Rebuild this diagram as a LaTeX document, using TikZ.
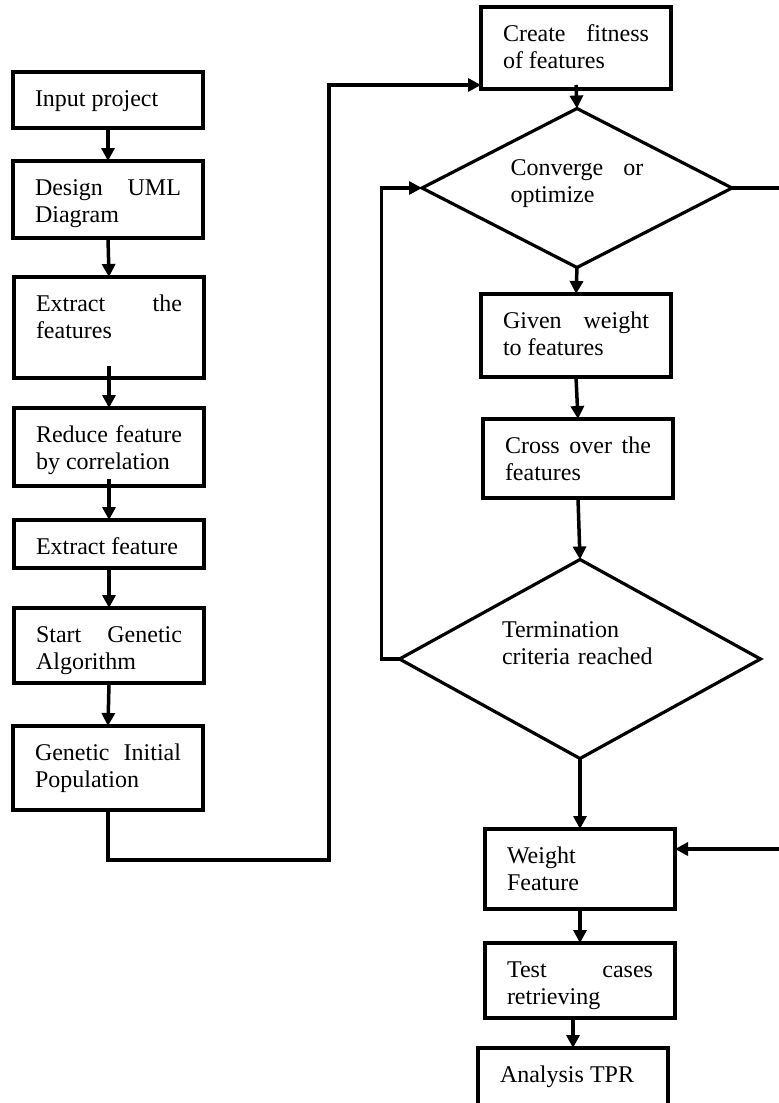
\documentclass[tikz,border=0pt]{standalone}
\usepackage{fontspec}
\setmainfont{Liberation Serif}
\usetikzlibrary{arrows.meta,shapes.geometric}
\begin{document}
\begin{tikzpicture}[x=0.5pt,y=-0.5pt,
  every node/.style={font={\fontsize{12pt}{13.75pt}\selectfont}},
  box/.style={draw, line width=1.75pt, inner xsep=11pt, inner ysep=0pt, outer sep=0pt,
    text width=73pt, align=justify, anchor=north west, text height=17pt},
  dia/.style={draw, diamond, line width=1.6pt, inner sep=0pt, outer sep=0pt,
    shape aspect=2, text height=8pt},
  arr/.style={line width=1.75pt, -{Triangle[length=6.5pt,width=6.5pt]}},
  ln/.style={line width=1.75pt}]
\useasboundingbox (0,0) rectangle (778,1103);

% left column
\node[box, text depth=11pt]   (input)  at (13,72)  {Input project};
\node[box, text depth=21.5pt] (design) at (13,161) {Design\hfill UML\\Diagram};
\node[box, text depth=33.5pt] (extr)   at (14,277) {Extract\hfill the\\features};
\node[box, text depth=22pt]   (reduce) at (14,408) {Reduce\hfill feature\\by correlation};
\node[box, text depth=7pt]    (extf)   at (14,520) {Extract feature};
\node[box, text depth=20.5pt] (start)  at (14,608) {Start\hfill Genetic\\Algorithm};
\node[box, text depth=25pt]   (gip)    at (13,726) {Genetic\hfill Initial\\Population};

% right column
\node[box, text depth=24pt]   (create) at (481,7)   {Create\hfill fitness\\of features};
\node[dia, minimum width=155pt, minimum height=79.5pt, text width=66.5pt, align=justify, text depth=21pt]
  (conv) at (577,188) {Converge\hfill or\\optimize};
\node[box, text depth=24.5pt] (given)  at (481,294) {Given\hfill weight\\to features};
\node[box, text depth=22.5pt] (cross)  at (483,419) {Cross\hfill over\hfill the\\features};
\node[dia, minimum width=180.5pt, minimum height=99.5pt, text width=78pt, align=left, text depth=30pt]
  (term) at (580,659) {Termination\\criteria reached};
\node[box, text depth=23pt]   (weight) at (485,829) {Weight\\Feature};
\node[box, text depth=20.5pt] (test)   at (485,943) {Test\hfill cases\\retrieving};
\node[box, text depth=15pt]   (anal)   at (478,1048) {Analysis TPR};

% left column connectors
\draw[arr] (input.south) -- (design.north);
\draw[arr] (design.south) -- (extr.north);
\draw[arr] ([yshift=6pt]extr.south) -- (reduce.north);
\draw[arr] ([yshift=3.5pt]reduce.south) -- (extf.north);
\draw[arr] (extf.south) -- (start.north);
\draw[arr] (start.south) -- (gip.north);

% big loop to create
\coordinate (lowA) at (329,860);
\draw[arr] (gip.south) |- (lowA) |- ([yshift=2pt]create.south west);

% right column connectors
\draw[arr] ([yshift=2pt]create.south) -- (conv.north);
\draw[arr] (conv.south) -- (given.north);
\draw[arr] (given.south) -- (cross.north);
\draw[arr] (cross.south) -- (term.north);
\draw[arr] (term.south) -- (weight.north);
\draw[arr] (weight.south) -- (test.north);
\draw[arr] (anal.north |- test.south) -- (anal.north);

% loop back from termination to converge
\draw[arr] (term.west) -- ++(-18,0) |- (conv.west);

% converge right exit to weight feature
\draw[arr] (conv.east) -- ++(50,0) |- ([yshift=10pt]weight.east);
\end{tikzpicture}
\end{document}
